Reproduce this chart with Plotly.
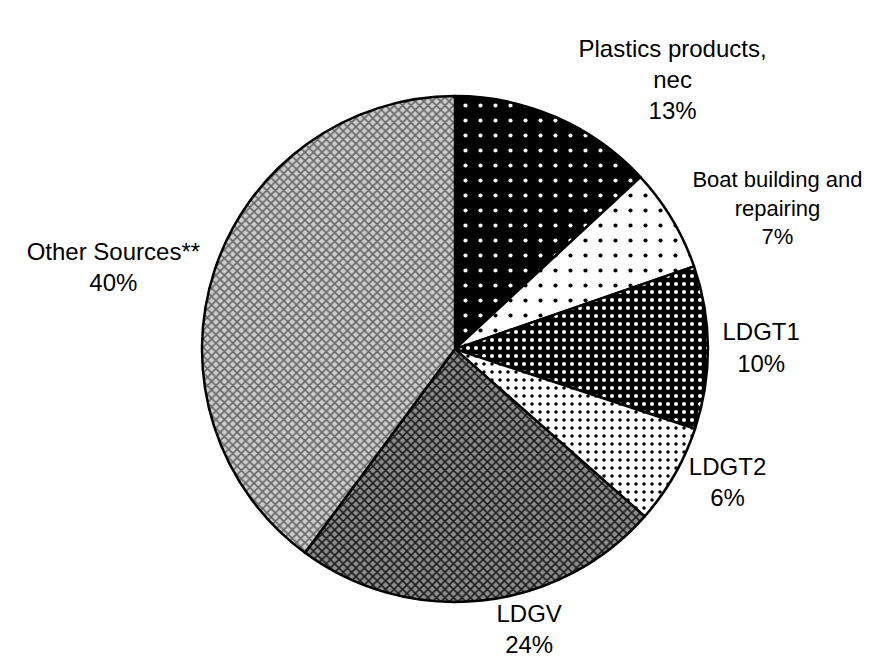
import plotly.graph_objects as go

# =====================================================
# DATA
# =====================================================

labels = [
    "Plastics products,<br>nec",
    "Boat building and<br>repairing",
    "LDGT1",
    "LDGT2",
    "LDGV",
    "Other Sources**",
]

shares = [13.1, 6.6, 10.4, 6.4, 23.6, 39.9]

# =====================================================
# PATTERN STYLES
# =====================================================

pattern = dict(
    shape=[".", ".", ".", ".", "x", "x"],
    fgcolor=["white", "black", "white", "black", "#1a1a1a", "#666666"],
    bgcolor=["black", "white", "black", "white", "#8c8c8c", "#cccccc"],
    size=[15, 15, 8, 8, 6, 6],
    solidity=[0.06, 0.06, 0.2, 0.15, 0.45, 0.45],
    fillmode="replace",
)

fig = go.Figure(
    go.Pie(
        labels=labels,
        values=shares,
        sort=False,
        direction="clockwise",
        rotation=0,
        texttemplate="%{label}<br>%{percent:.0%}",
        textposition="outside",
        textfont=dict(
            family="Arial, Liberation Sans",
            size=[24, 22, 24, 24, 24, 24],
            color="black"
        ),
        marker=dict(line=dict(color="black", width=2.5), pattern=pattern),
        showlegend=False,
        domain=dict(x=[0.2197, 0.7927], y=[0.1067, 0.8675]),
    )
)

fig.update_layout(
    width=883,
    height=665,
    paper_bgcolor="white",
    plot_bgcolor="white",
    margin=dict(l=0, r=0, t=0, b=0),
    font=dict(family="Arial, Liberation Sans", size=24, color="black"),
)

fig.write_html("out.html")
